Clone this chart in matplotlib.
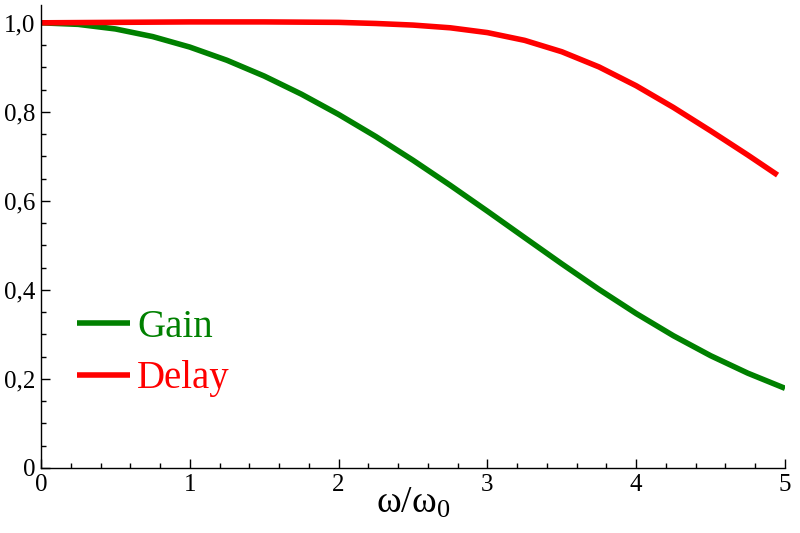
import matplotlib
matplotlib.use("Agg")
import matplotlib.pyplot as plt
from matplotlib.ticker import MultipleLocator, FuncFormatter

plt.rcParams['font.family'] = ['Liberation Serif', 'DejaVu Serif']
plt.rcParams['mathtext.fontset'] = 'custom'
plt.rcParams['mathtext.rm'] = 'Liberation Serif'
plt.rcParams['mathtext.it'] = 'Liberation Serif:italic'

# Data
freq = [0.0, 0.25, 0.5, 0.75, 1.0, 1.25, 1.5, 1.75, 2.0, 2.25, 2.5, 2.75,
        3.0, 3.25, 3.5, 3.75, 4.0, 4.25, 4.5, 4.75, 5.0]
gain = [1.0, 0.9965, 0.9862, 0.9691, 0.9455, 0.9158, 0.8804, 0.8397, 0.7942,
        0.7446, 0.6913, 0.6351, 0.5769, 0.5176, 0.4586, 0.4012, 0.3470,
        0.2971, 0.2523, 0.2130, 0.1790]
delay_freq = [0.0, 0.25, 0.5, 0.75, 1.0, 1.25, 1.5, 1.75, 2.0, 2.25, 2.5, 2.75,
              3.0, 3.25, 3.5, 3.75, 4.0, 4.25, 4.5, 4.75, 4.95]
delay = [1.0, 1.0005, 1.001, 1.0015, 1.002, 1.002, 1.002, 1.0015, 1.001,
         0.9985, 0.9949, 0.9888, 0.9780, 0.9606, 0.9350, 0.9009, 0.8586,
         0.8099, 0.7573, 0.7030, 0.6580]
series_labels = ["Gain", "Delay"]
series_colors = ["#008000", "#ff0000"]
x_label = r"$\mathrm{\omega/\omega_0}$"

fig = plt.figure(figsize=(8, 5.33), dpi=100)
ax = fig.add_axes([41/800, 1-468/533, (785-41)/800, (468-5)/533])

l1, = ax.plot(freq, gain, color=series_colors[0], lw=4, label=series_labels[0],
              solid_capstyle='butt', solid_joinstyle='round')
l2, = ax.plot(delay_freq, delay, color=series_colors[1], lw=4, label=series_labels[1],
              solid_capstyle='butt', solid_joinstyle='round')

ax.set_xlim(0, 5)
ax.set_ylim(0, 1.04)
for s in ['top', 'right']:
    ax.spines[s].set_visible(False)
for s in ['left', 'bottom']:
    ax.spines[s].set_linewidth(1.0)

ax.xaxis.set_major_locator(MultipleLocator(1))
ax.xaxis.set_minor_locator(MultipleLocator(0.2))
ax.yaxis.set_major_locator(MultipleLocator(0.2))
ax.yaxis.set_minor_locator(MultipleLocator(0.05))

def yfmt(v, pos):
    if abs(v) < 1e-9:
        return "0"
    return f"{v:.1f}".replace('.', ',')

ax.yaxis.set_major_formatter(FuncFormatter(yfmt))
ax.xaxis.set_major_formatter(FuncFormatter(lambda v, p: f"{int(round(v))}"))

ax.tick_params(which='major', direction='in', length=6.5, width=1.0, labelsize=18, pad=4)
ax.tick_params(which='minor', direction='in', length=3.8, width=1.0)

ax.set_xlabel(x_label, fontsize=27, labelpad=-7)

leg = ax.legend(handles=[l1, l2], loc='upper left',
                bbox_to_anchor=(77/800, 1-309/533), bbox_transform=fig.transFigure,
                frameon=False, fontsize=28, handlelength=1.36, handletextpad=0.18,
                labelspacing=0.37, borderpad=0, borderaxespad=0, labelcolor='linecolor')

fig.savefig("out.png", dpi=100)
